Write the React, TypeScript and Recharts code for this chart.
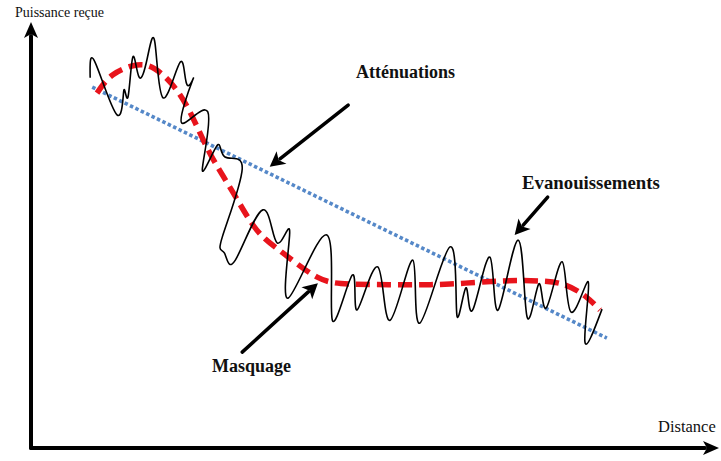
import React from "react";
import { ComposedChart, Line, XAxis, YAxis, ReferenceLine } from "recharts";

// distance / received power, 0..100 in both directions
const fading = [
  { x: 8.6, y: 86.9 }, { x: 9.3, y: 90.6 }, { x: 12.5, y: 78.2 }, { x: 13.5, y: 84.0 },
  { x: 14.1, y: 82.4 }, { x: 14.8, y: 91.8 }, { x: 15.7, y: 87.1 }, { x: 16.9, y: 91.5 },
  { x: 18.0, y: 95.3 }, { x: 19.2, y: 82.2 }, { x: 21.7, y: 90.6 }, { x: 22.7, y: 85.2 },
  { x: 23.5, y: 86.4 }, { x: 21.9, y: 76.3 }, { x: 25.7, y: 78.9 }, { x: 24.9, y: 65.3 },
  { x: 27.0, y: 70.9 }, { x: 28.2, y: 68.3 }, { x: 30.7, y: 65.5 }, { x: 27.8, y: 49.5 },
  { x: 28.1, y: 45.8 }, { x: 29.7, y: 44.1 }, { x: 33.7, y: 55.9 }, { x: 35.8, y: 48.1 },
  { x: 37.6, y: 50.5 }, { x: 37.4, y: 35.2 }, { x: 43.0, y: 50.0 }, { x: 43.8, y: 30.0 },
  { x: 46.7, y: 40.6 }, { x: 47.4, y: 32.4 }, { x: 50.4, y: 42.5 }, { x: 52.2, y: 30.0 },
  { x: 55.5, y: 44.1 }, { x: 56.5, y: 29.3 }, { x: 60.9, y: 47.2 }, { x: 61.9, y: 31.2 },
  { x: 63.2, y: 37.6 }, { x: 64.2, y: 32.4 }, { x: 66.7, y: 44.8 }, { x: 67.9, y: 32.4 },
  { x: 70.8, y: 48.8 }, { x: 72.1, y: 30.8 }, { x: 73.8, y: 38.5 }, { x: 74.9, y: 32.9 },
  { x: 77.2, y: 43.7 }, { x: 78.5, y: 31.9 }, { x: 81.0, y: 39.0 }, { x: 80.5, y: 25.1 },
  { x: 83.0, y: 32.6 },
];

const shadowing = [
  { x: 9.6, y: 83.3 }, { x: 11.9, y: 87.6 }, { x: 15.4, y: 89.9 }, { x: 18.0, y: 89.0 },
  { x: 20.5, y: 85.4 }, { x: 23.1, y: 78.9 }, { x: 26.0, y: 69.2 }, { x: 29.4, y: 59.9 },
  { x: 32.8, y: 51.2 }, { x: 36.6, y: 45.8 }, { x: 41.6, y: 40.1 }, { x: 46.4, y: 38.5 },
  { x: 53.6, y: 38.3 }, { x: 60.9, y: 38.5 }, { x: 68.2, y: 39.2 }, { x: 74.0, y: 39.2 },
  { x: 77.6, y: 38.3 }, { x: 80.5, y: 35.7 }, { x: 82.7, y: 32.4 },
];

const pathLoss = [
  { x: 8.9, y: 84.7 },
  { x: 83.7, y: 25.8 },
];

// annotation arrows: tail -> tip
const pointers = [
  { name: "Atténuations", from: { x: 46.1, y: 80.5 }, to: { x: 34.7, y: 66.0 } },
  { name: "Evanouissements", from: { x: 75.1, y: 58.9 }, to: { x: 70.3, y: 50.0 } },
  { name: "Masquage", from: { x: 30.7, y: 22.5 }, to: { x: 41.7, y: 38.7 } },
];

const axes = [
  { name: "y", from: { x: 0, y: 0 }, to: { x: 0, y: 100 } },
  { name: "x", from: { x: 0, y: 0 }, to: { x: 100, y: 0 } },
];

const makeArrow = (width: number, headLen: number, headHalf: number) => (props: any) => {
  const { x1, y1, x2, y2 } = props;
  const dx = x2 - x1;
  const dy = y2 - y1;
  const len = Math.sqrt(dx * dx + dy * dy) || 1;
  const ux = dx / len;
  const uy = dy / len;
  const bx = x2 - ux * headLen;
  const by = y2 - uy * headLen;
  const head = [
    `${x2},${y2}`,
    `${bx - uy * headHalf},${by + ux * headHalf}`,
    `${bx + ux * headLen * 0.25},${by + uy * headLen * 0.25}`,
    `${bx + uy * headHalf},${by - ux * headHalf}`,
  ].join(" ");
  return (
    <g>
      <line x1={x1} y1={y1} x2={bx + ux * 2} y2={by + uy * 2} stroke="#000" strokeWidth={width} strokeLinecap="round" />
      <polygon points={head} fill="#000" />
    </g>
  );
};

const AxisArrow = makeArrow(4, 16, 7);
const PointerArrow = makeArrow(3.5, 15, 8);

const serif = '"Liberation Serif", "DejaVu Serif", serif';

const textStyle = (left: number, top: number, size: number, bold: boolean): React.CSSProperties => ({
  position: "absolute",
  left,
  top,
  fontFamily: serif,
  fontSize: size,
  lineHeight: `${size}px`,
  fontWeight: bold ? 700 : 400,
  color: "#111",
  whiteSpace: "nowrap",
});

export default function App() {
  return (
    <div style={{ position: "relative", width: 721, height: 461, background: "#fff" }}>
      <style>{"body{margin:0}"}</style>
      <ComposedChart width={721} height={461} margin={{ top: 22, right: 2, bottom: 13, left: 31 }}>
        <XAxis type="number" dataKey="x" domain={[0, 100]} hide />
        <YAxis type="number" domain={[0, 100]} hide />
        <Line
          data={pathLoss}
          dataKey="y"
          type="linear"
          stroke="#5588c8"
          strokeWidth={3.6}
          strokeDasharray="3.5 2.5"
          dot={false}
          isAnimationActive={false}
        />
        <Line
          data={shadowing}
          dataKey="y"
          type="natural"
          stroke="#e8141c"
          strokeWidth={5.5}
          strokeDasharray="14 7"
          dot={false}
          isAnimationActive={false}
        />
        <Line
          data={fading}
          dataKey="y"
          type="natural"
          stroke="#000"
          strokeWidth={1.6}
          dot={false}
          isAnimationActive={false}
        />
        {axes.map((a) => (
          <ReferenceLine key={a.name} segment={[a.from, a.to]} ifOverflow="visible" shape={AxisArrow} />
        ))}
        {pointers.map((p) => (
          <ReferenceLine key={p.name} segment={[p.from, p.to]} ifOverflow="visible" shape={PointerArrow} />
        ))}
      </ComposedChart>
      <div style={textStyle(15, 6, 14, false)}>Puissance reçue</div>
      <div style={textStyle(658, 419, 16.5, false)}>Distance</div>
      <div style={textStyle(356, 63, 18, true)}>Atténuations</div>
      <div style={textStyle(522, 174, 18.8, true)}>Evanouissements</div>
      <div style={textStyle(212, 357, 18, true)}>Masquage</div>
    </div>
  );
}
